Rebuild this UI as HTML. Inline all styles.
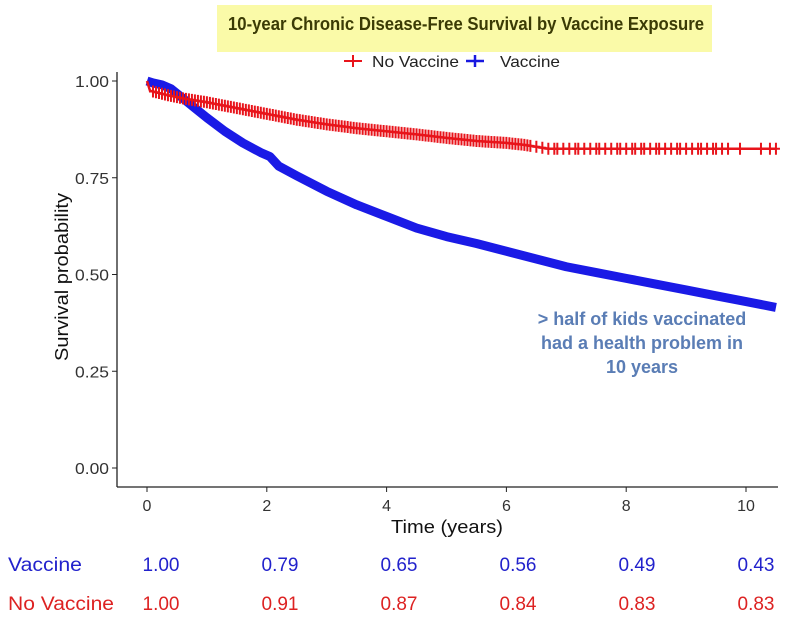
<!DOCTYPE html>
<html><head><meta charset="utf-8"><style>
html,body{margin:0;padding:0;background:#fff;}
svg{display:block;}
text{font-family:"Liberation Sans",sans-serif;}
</style></head><body>
<svg id="chart" width="804" height="631" viewBox="0 0 804 631">
<rect x="217" y="5" width="495" height="47" fill="#fafaa8"/>
<text x="466" y="30" text-anchor="middle" font-size="18" font-weight="bold" fill="#3b3b05" textLength="476" lengthAdjust="spacingAndGlyphs">10-year Chronic Disease-Free Survival by Vaccine Exposure</text>
<g>
<g>
<line x1="344" y1="61" x2="362" y2="61" stroke="#e8141b" stroke-width="2"/><line x1="353" y1="55" x2="353" y2="67" stroke="#e8141b" stroke-width="2"/>
<text x="372" y="67" font-size="16" fill="#222" textLength="87" lengthAdjust="spacingAndGlyphs">No Vaccine</text></g>
<g>
<line x1="466" y1="61" x2="484" y2="61" stroke="#1818e0" stroke-width="2.5"/><line x1="475" y1="55" x2="475" y2="67" stroke="#1818e0" stroke-width="2.5"/>
<text x="500" y="67" font-size="16" fill="#222" textLength="60" lengthAdjust="spacingAndGlyphs">Vaccine</text></g>
</g>
<g id="axes"></g>
<g id="series"></g>
<text x="0" y="0" transform="translate(68,277) rotate(-90)" text-anchor="middle" font-size="18" fill="#111" textLength="168" lengthAdjust="spacingAndGlyphs">Survival probability</text>
<text x="447" y="533" text-anchor="middle" font-size="18" fill="#111" textLength="112" lengthAdjust="spacingAndGlyphs">Time (years)</text>
<g font-size="18" font-weight="bold" fill="#5a7db5" text-anchor="middle">
<text x="642" y="325">&gt; half of kids vaccinated</text>
<text x="642" y="349">had a health problem in</text>
<text x="642" y="373">10 years</text>
</g>
<g id="table" font-size="19"></g>
</svg>
<script>
const xTicks=[0,2,4,6,8,10];
const yTicks=[0,0.25,0.5,0.75,1];
const yTickLabels=["0.00","0.25","0.50","0.75","1.00"];
const vacT=[0,0.1,0.25,0.4,0.6,0.8,1.0,1.3,1.6,1.9,2.05,2.2,2.5,3,3.5,4,4.5,5,5.5,6,6.5,7,7.5,8,8.5,9,9.5,10,10.5];
const vacS=[1.0,0.995,0.99,0.98,0.955,0.93,0.905,0.87,0.84,0.815,0.805,0.78,0.755,0.715,0.68,0.65,0.62,0.598,0.58,0.56,0.54,0.52,0.505,0.49,0.475,0.46,0.445,0.43,0.415];
const novT=[0,0.05,0.3,0.6,1.0,1.5,2.0,2.5,3.0,3.5,4.0,4.5,5.0,5.5,6.0,6.3,6.7,8,10.5];
const novS=[1.0,0.975,0.965,0.955,0.945,0.93,0.915,0.9,0.888,0.878,0.87,0.862,0.853,0.845,0.84,0.835,0.825,0.825,0.825];
const censorT=[0.1,0.15,0.2,0.25,0.3,0.35,0.4,0.45,0.5,0.55,0.6,0.65,0.7,0.75,0.8,0.85,0.9,0.95,1,1.05,1.1,1.15,1.2,1.25,1.3,1.35,1.4,1.45,1.5,1.55,1.6,1.65,1.7,1.75,1.8,1.85,1.9,1.95,2,2.05,2.1,2.15,2.2,2.25,2.3,2.35,2.4,2.45,2.5,2.55,2.6,2.65,2.7,2.75,2.8,2.85,2.9,2.95,3,3.05,3.1,3.15,3.2,3.25,3.3,3.35,3.4,3.45,3.5,3.55,3.6,3.65,3.7,3.75,3.8,3.85,3.9,3.95,4,4.05,4.1,4.15,4.2,4.25,4.3,4.35,4.4,4.45,4.5,4.55,4.6,4.65,4.7,4.75,4.8,4.85,4.9,4.95,5,5.05,5.1,5.15,5.2,5.25,5.3,5.35,5.4,5.45,5.5,5.55,5.6,5.65,5.7,5.75,5.8,5.85,5.9,5.95,6,6.05,6.1,6.15,6.2,6.25,6.3,6.35,6.4,6.5,6.6,6.7,6.8,6.85,6.95,7.05,7.15,7.2,7.3,7.4,7.5,7.55,7.65,7.75,7.85,7.9,8,8.1,8.15,8.25,8.3,8.4,8.5,8.55,8.65,8.75,8.85,8.9,9.0,9.1,9.2,9.25,9.35,9.45,9.5,9.6,9.7,9.9,10.25,10.4,10.5];
const tableTimes=[0,2,4,6,8,10];
const tableVac=["1.00","0.79","0.65","0.56","0.49","0.43"];
const tableNov=["1.00","0.91","0.87","0.84","0.83","0.83"];
const NS="http://www.w3.org/2000/svg";
const X=t=>147+t*59.9;
const Y=s=>468-s*387;
function el(tag,attrs,parent){const e=document.createElementNS(NS,tag);for(const k in attrs)e.setAttribute(k,attrs[k]);parent.appendChild(e);return e;}
const axes=document.getElementById('axes');
const ya=el('line',{x1:117,y1:72,x2:117,y2:487,stroke:'#222','stroke-width':1.3},axes);


const xa=el('line',{x1:117,y1:487,x2:778,y2:487,stroke:'#222','stroke-width':1.3},axes);


yTicks.forEach((v,i)=>{
 el('line',{x1:112,y1:Y(v),x2:117,y2:Y(v),stroke:'#222'},axes);
 const t=el('text',{x:109,y:Y(v)+6,'text-anchor':'end','font-size':16,fill:'#333',textLength:34,lengthAdjust:'spacingAndGlyphs'},axes);t.textContent=yTickLabels[i];
 
 
});
xTicks.forEach(v=>{
 el('line',{x1:X(v),y1:487,x2:X(v),y2:492,stroke:'#222'},axes);
 const t=el('text',{x:X(v),y:511,'text-anchor':'middle','font-size':16,fill:'#333'},axes);t.textContent=v;
 
 
});
const series=document.getElementById('series');
function interp(T,S,t){for(let i=1;i<T.length;i++){if(t<=T[i]){const f=(t-T[i-1])/(T[i]-T[i-1]);return S[i-1]+f*(S[i]-S[i-1]);}}return S[S.length-1];}
let d='';vacT.forEach((t,i)=>{d+=(i?'L':'M')+X(t)+','+Y(vacS[i]);});
const vp=el('path',{d:d,fill:'none',stroke:'#1a1ae6','stroke-width':9,'stroke-linejoin':'round'},series);


let d2='';novT.forEach((t,i)=>{d2+=(i?'L':'M')+X(t)+','+Y(novS[i]);});
const np=el('path',{d:d2,fill:'none',stroke:'#e8141b','stroke-width':2.5},series);


censorT.forEach(t=>{const s=interp(novT,novS,t);
 const c=el('path',{d:`M${X(t)-4},${Y(s)}H${X(t)+4}M${X(t)},${Y(s)-6}V${Y(s)+6}`,stroke:'#e8141b','stroke-width':2},series);
 
 
});
const tb=document.getElementById('table');
const l1=el('text',{x:8,y:571,fill:'#2222cc',textLength:74,lengthAdjust:'spacingAndGlyphs'},tb);l1.textContent='Vaccine';


const l2=el('text',{x:8,y:610,fill:'#dd2222',textLength:106,lengthAdjust:'spacingAndGlyphs'},tb);l2.textContent='No Vaccine';


tableTimes.forEach((t,i)=>{
 const cx=161+t*59.5;
 const a=el('text',{x:cx,y:571,'text-anchor':'middle',fill:'#2222cc'},tb);a.textContent=tableVac[i];
 
 
 const b=el('text',{x:cx,y:610,'text-anchor':'middle',fill:'#dd2222'},tb);b.textContent=tableNov[i];
 
 
});
</script>
</body></html>
